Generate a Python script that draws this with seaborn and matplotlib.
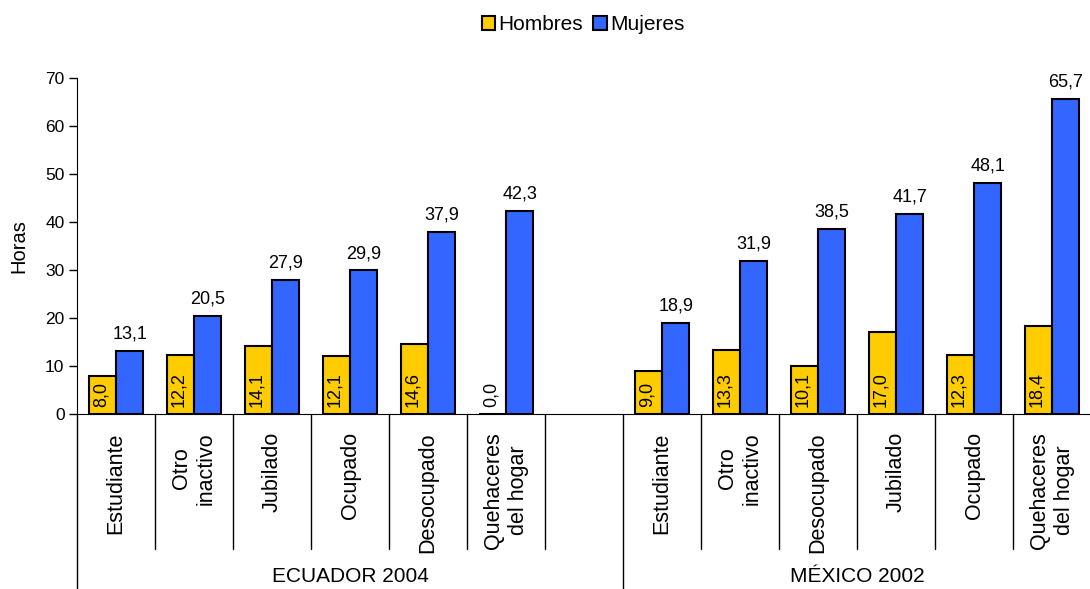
"""
Horas semanales de trabajo doméstico por condición de actividad y sexo,
Ecuador 2004 y México 2002.
"""
import pandas as pd
import numpy as np
import matplotlib
matplotlib.use("Agg")
import matplotlib.pyplot as plt
import matplotlib.transforms as mtransforms
import seaborn as sns

# Data
ecuador_cats = ["Estudiante", "Otro\ninactivo", "Jubilado", "Ocupado",
                "Desocupado", "Quehaceres\ndel hogar"]
ecuador_hombres = [8.0, 12.2, 14.1, 12.1, 14.6, 0.0]
ecuador_mujeres = [13.1, 20.5, 27.9, 29.9, 37.9, 42.3]

mexico_cats = ["Estudiante", "Otro\ninactivo", "Desocupado", "Jubilado",
               "Ocupado", "Quehaceres\ndel hogar"]
mexico_hombres = [9.0, 13.3, 10.1, 17.0, 12.3, 18.4]
mexico_mujeres = [18.9, 31.9, 38.5, 41.7, 48.1, 65.7]

groups = ["ECUADOR 2004", "MÉXICO 2002"]
series = ["Hombres", "Mujeres"]
colors = {"Hombres": "#FFCC00", "Mujeres": "#3366FF"}

# Build long table, with a blank slot between the two countries
rows = []
for cat, h, m in zip(ecuador_cats, ecuador_hombres, ecuador_mujeres):
    rows.append(("EC|" + cat, "Hombres", h))
    rows.append(("EC|" + cat, "Mujeres", m))
for cat, h, m in zip(mexico_cats, mexico_hombres, mexico_mujeres):
    rows.append(("MX|" + cat, "Hombres", h))
    rows.append(("MX|" + cat, "Mujeres", m))
df = pd.DataFrame(rows, columns=["slot", "sexo", "horas"])

order = ["EC|" + c for c in ecuador_cats] + ["gap"] + ["MX|" + c for c in mexico_cats]
labels = ecuador_cats + [""] + mexico_cats

sns.set_style("white")
plt.rcParams["font.family"] = ["Liberation Sans", "DejaVu Sans"]
plt.rcParams["text.color"] = "black"
plt.rcParams["axes.labelcolor"] = "black"
plt.rcParams["xtick.color"] = "black"
plt.rcParams["ytick.color"] = "black"

fig = plt.figure(figsize=(10.9, 5.89), dpi=100)
ax = fig.add_axes([77 / 1090, 1 - 414 / 589, 1014 / 1090, 336 / 589])

sns.barplot(data=df, x="slot", y="horas", hue="sexo", order=order,
            hue_order=series, palette=colors, width=0.7, gap=0,
            edgecolor="black", linewidth=1.5, errorbar=None,
            saturation=1, ax=ax)

ax.set_xlim(-0.5, len(order) - 0.5)
ax.set_ylim(0, 70)
ax.set_yticks(np.arange(0, 71, 10))
ax.tick_params(axis="y", labelsize=12.5, length=6, width=1, colors="black",
               left=True, pad=3)
ax.tick_params(axis="x", bottom=False, labelbottom=False)
ax.set_xlabel("")
ax.set_ylabel("Horas", fontsize=14.5, labelpad=12, color="black")
for s in ["top", "right"]:
    ax.spines[s].set_visible(False)
ax.spines["left"].set_color("black")
ax.spines["bottom"].set_color("black")
ax.grid(False)

# Value labels
fmt = lambda v: f"{v:.1f}".replace(".", ",")
hombres_bars = ax.containers[0]
mujeres_bars = ax.containers[1]
for bar in hombres_bars:
    h = bar.get_height()
    if np.isnan(h):
        continue
    ax.annotate(fmt(h), (bar.get_x() + bar.get_width() / 2, 0),
                xytext=(-1, 5), textcoords="offset points", color="black",
                rotation=90, ha="center", va="bottom", fontsize=13)
for bar in mujeres_bars:
    h = bar.get_height()
    if np.isnan(h):
        continue
    ax.annotate(fmt(h), (bar.get_x() + bar.get_width() / 2, h),
                xytext=(0, 6), textcoords="offset points", color="black",
                ha="center", va="bottom", fontsize=13)

# Multi-level category axis
trans = mtransforms.blended_transform_factory(ax.transData, ax.transAxes)
for i, lab in enumerate(labels):
    if lab:
        ax.text(i, -0.054, lab, transform=trans, rotation=90, ha="center",
                va="top", multialignment="center", fontsize=15.5,
                color="black")

short_y = (414 - 549) / 336
long_y = (414 - 589) / 336
for k in range(len(order)):
    xb = k - 0.5
    if k == 0 or order[k] == "MX|" + mexico_cats[0]:
        ax.plot([xb, xb], [0, long_y], transform=trans, color="black",
                lw=1, clip_on=False)
    else:
        ax.plot([xb, xb], [0, short_y], transform=trans, color="black",
                lw=1, clip_on=False)

n_ec = len(ecuador_cats)
ax.text((-0.5 + n_ec + 0.5) / 2, -0.485, groups[0], transform=trans,
        ha="center", va="center", fontsize=15, color="black")
ax.text((n_ec + 0.5 + len(order) - 0.5) / 2, -0.485, groups[1],
        transform=trans, ha="center", va="center", fontsize=15,
        color="black")

# Legend on top
handles, leg_labels = ax.get_legend_handles_labels()
ax.legend_.remove()
leg = fig.legend(handles, leg_labels, loc="center",
                 bbox_to_anchor=(0.535, 1 - 25 / 589),
                 ncol=2, frameon=False, fontsize=15, handlelength=0.65,
                 handleheight=0.65, handletextpad=0.15, columnspacing=0.5)
for t in leg.get_texts():
    t.set_color("black")

plt.savefig("out.png", dpi=100)
